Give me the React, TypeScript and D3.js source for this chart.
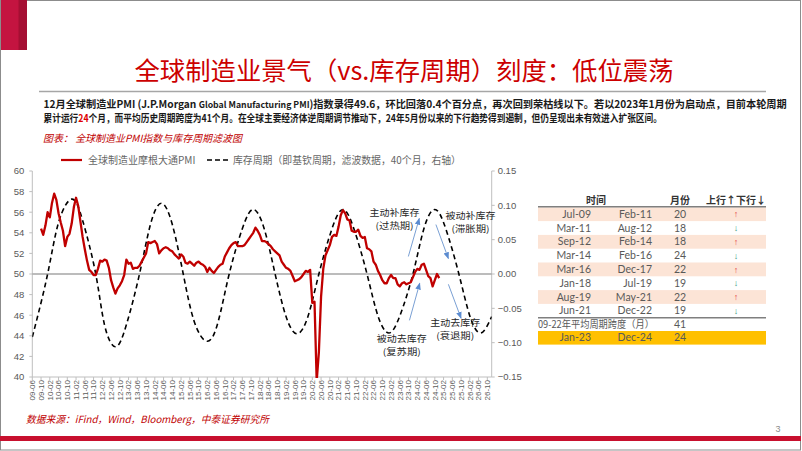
import React, { useEffect, useRef } from "react";
import * as d3 from "d3";

const CN = "'Noto Sans CJK SC', 'Noto Sans', sans-serif";
const NUM = "'Liberation Sans', Arial, sans-serif";
const RED = "#c00000";
const AXIS_TEXT = "#595959";

// monthly category axis
const axisFirstMonth = "2009-06";
const axisLastMonth = "2026-12";
const leftTicks = [40, 42, 44, 46, 48, 50, 52, 54, 56, 58, 60];
const rightTicks = [-0.15, -0.1, -0.05, 0, 0.05, 0.1, 0.15];

// J.P.Morgan global manufacturing PMI, one value per month from 2009-10
const pmiFirstMonth = "2009-10";
const pmiValues = [
  // 2009 Oct-Dec
  54.4, 53.8, 54.7,
  // 2010
  56.0, 55.5, 56.9, 57.8, 57.2, 55.9, 55.0, 54.2, 52.7, 53.6, 53.9, 54.9,
  // 2011
  56.5, 57.4, 56.6, 55.1, 53.6, 52.4, 51.3, 50.4, 50.2, 49.9, 49.9, 50.5,
  // 2012
  51.3, 51.2, 51.4, 51.3, 50.6, 49.4, 48.7, 48.1, 48.6, 48.9, 49.3, 49.9,
  // 2013
  51.4, 51.0, 51.1, 50.5, 50.6, 50.6, 50.8, 51.2, 51.6, 52.0, 53.1, 53.0,
  // 2014
  53.1, 53.2, 52.9, 52.0, 52.3, 52.5, 52.6, 52.5, 52.3, 52.2, 51.9, 51.7,
  // 2015
  51.5, 51.9, 51.7, 51.1, 51.0, 51.2, 51.0, 50.8, 51.1, 51.2, 51.0, 50.9,
  // 2016
  50.7, 50.2, 50.6, 50.3, 50.1, 50.4, 50.7, 50.9, 51.0, 51.7, 52.1, 52.5,
  // 2017
  52.8, 53.0, 53.1, 52.7, 52.7, 52.7, 52.8, 53.1, 53.4, 53.7, 54.0, 54.5,
  // 2018
  54.2, 53.8, 53.2, 53.2, 53.1, 52.9, 52.7, 52.4, 52.2, 52.0, 51.8, 51.2,
  // 2019
  50.9, 50.6, 50.5, 50.3, 49.8, 49.3, 49.4, 49.5, 49.7, 50.0, 50.3, 50.2,
  // 2020
  50.4, 47.2, 47.3, 39.6, 42.4, 47.8, 50.5, 51.8, 52.3, 52.8, 53.6, 53.8,
  // 2021
  53.7, 54.6, 55.7, 56.2, 55.9, 55.3, 55.2, 54.2, 54.1, 54.1, 54.3, 53.7,
  // 2022
  53.5, 53.6, 52.5, 52.4, 52.2, 51.2, 50.9, 50.3, 49.9, 49.4, 49.1, 49.1,
  // 2023
  49.6, 49.9, 49.6, 49.6, 49.0, 48.8, 49.1, 49.2, 49.0, 49.1, 49.2, 49.7,
  // 2024
  50.2, 50.5, 50.4, 50.9, 51.0, 50.4, 49.8, 49.6, 48.8, 49.4, 50.0, 49.6,
];

// inventory (Kitchin) cycle, filtered, right axis - read at turns and crossings
const kitchinMonths = [
  "2009-06", "2010-01", "2010-06", "2010-12", "2011-05", "2011-11", "2012-03",
  "2012-08", "2013-01", "2013-07", "2013-12", "2014-05", "2014-10", "2015-03",
  "2015-08", "2016-02", "2016-07", "2016-12", "2017-06", "2017-11", "2018-04",
  "2018-09", "2019-02", "2019-07", "2019-12", "2020-05", "2020-11", "2021-04",
  "2021-09", "2022-03", "2022-08", "2023-01", "2023-06", "2023-12", "2024-05",
  "2024-10", "2025-03", "2025-09", "2026-02", "2026-07", "2026-12",
];
const kitchinValues = [
  -0.092, 0.0, 0.075, 0.109, 0.078, 0.0, -0.074,
  -0.106, -0.074, 0.0, 0.072, 0.103, 0.072, 0.0,
  -0.069, -0.098, -0.069, 0.0, 0.066, 0.094, 0.066,
  0.0, -0.062, -0.087, -0.062, 0.0, 0.066, 0.094,
  0.066, 0.0, -0.061, -0.086, -0.061, 0.0, 0.066,
  0.094, 0.066, 0.0, -0.061, -0.086, -0.062,
];

// cycle table
const phaseStart = ["Jul-09", "Mar-11", "Sep-12", "Mar-14", "Mar-16", "Jan-18", "Aug-19", "Jun-21"];
const phaseEnd = ["Feb-11", "Aug-12", "Feb-14", "Feb-16", "Dec-17", "Jul-19", "May-21", "Dec-22"];
const phaseLength = [20, 18, 18, 24, 22, 19, 22, 19];
const phaseUp = [true, false, true, false, true, false, true, false];
const avgLabel = "09-22年平均周期跨度（月）";
const avgLength = 41;
const currentPhase = ["Jan-23", "Dec-24", "24"];

// phase annotations: [label, sub label, month index, left-axis value]
const phaseNotes: [string, string, number, number][] = [
  ["主动补库存", "(过热期)", 165.6, 55.95],
  ["被动补库存", "(滞胀期)", 200.3, 55.65],
  ["主动去库存", "(衰退期)", 193.3, 45.25],
  ["被动去库存", "(复苏期)", 168.9, 43.75],
];
// arrows: [from index, from value, to index, to value]
const phaseArrows: [number, number, number, number][] = [
  [171.9, 51.7, 176.9, 55.4],
  [184.5, 54.8, 190.2, 51.5],
  [190.2, 49.0, 196.0, 45.7],
  [172.4, 45.5, 177.1, 49.1],
];

export default function App() {
  const svgRef = useRef<SVGSVGElement | null>(null);

  useEffect(() => {
    if (!svgRef.current) return;
    const svg = d3.select(svgRef.current);
    svg.selectAll("*").remove();

    const parseMonth = d3.timeParse("%Y-%m");
    const fmtKey = d3.timeFormat("%Y-%m");
    const fmtTick = d3.timeFormat("%y-%m");

    const first = parseMonth(axisFirstMonth) as Date;
    const last = parseMonth(axisLastMonth) as Date;
    const months = d3.timeMonth.range(first, d3.timeMonth.offset(last, 1));
    const keys = months.map(fmtKey);

    const plot = { left: 32.3, right: 491.7, top: 171, bottom: 377 };

    const x = d3.scalePoint<string>().domain(keys).range([plot.left, plot.right]);
    const xi = d3.scaleLinear().domain([0, keys.length - 1]).range([plot.left, plot.right]);
    const yL = d3.scaleLinear().domain([40, 60]).range([plot.bottom, plot.top]);
    const yR = d3.scaleLinear().domain([-0.15, 0.15]).range([plot.bottom, plot.top]);

    // squeeze a text horizontally to a given width
    const fitWidth = (sel: any, px: number, py: number, width: number) => {
      const w = (sel.node() as SVGTextElement).getComputedTextLength();
      sel.attr("transform", `translate(${px},${py}) scale(${w > 0 ? width / w : 1},1)`);
    };

    // slide frame
    svg.append("rect")
      .attr("x", 0.5).attr("y", 0.5).attr("width", 800).attr("height", 449.5)
      .attr("fill", "#fff").attr("stroke", "#8c8c8c");
    svg.append("rect").attr("x", 1).attr("y", 0).attr("width", 26).attr("height", 50).attr("fill", "#c41440");
    svg.append("rect").attr("x", 18.5).attr("y", 0).attr("width", 8.5).attr("height", 50).attr("fill", "#a50f33");
    svg.append("rect").attr("x", 0).attr("y", 436).attr("width", 801).attr("height", 5).attr("fill", "#c8102e");
    svg.append("text")
      .attr("x", 778).attr("y", 432).attr("text-anchor", "middle")
      .attr("font-family", NUM).attr("font-size", 9).attr("fill", "#8c8c8c")
      .text("3");

    // title
    svg.append("text")
      .attr("x", 404).attr("y", 80).attr("text-anchor", "middle")
      .attr("font-family", CN).attr("font-size", 25).attr("fill", "#cc0000")
      .attr("textLength", 539).attr("lengthAdjust", "spacingAndGlyphs")
      .text("全球制造业景气（vs.库存周期）刻度：低位震荡");
    svg.append("line")
      .attr("x1", 39).attr("x2", 766).attr("y1", 91.5).attr("y2", 91.5)
      .attr("stroke", "#a6a6a6").attr("stroke-width", 1.5);

    // summary paragraph
    const p1 = svg.append("text")
      .attr("font-family", CN).attr("font-size", 10.5).attr("font-weight", "bold").attr("fill", "#1a1a1a");
    p1.append("tspan").text("12月全球制造业PMI (J.P.Morgan ");
    p1.append("tspan").attr("font-size", 9).attr("font-weight", 600).text("Global Manufacturing PMI");
    p1.append("tspan").text(")指数录得49.6，环比回落0.4个百分点，再次回到荣枯线以下。若以2023年1月份为启动点，目前本轮周期");
    fitWidth(p1, 43.5, 108, 744);

    const p2 = svg.append("text")
      .attr("font-family", CN).attr("font-size", 10.5).attr("font-weight", "bold").attr("fill", "#1a1a1a");
    p2.append("tspan").text("累计运行");
    p2.append("tspan").attr("fill", "#e00000").text("24");
    p2.append("tspan").text("个月，而平均历史周期跨度为41个月。在全球主要经济体逆周期调节推动下，24年5月份以来的下行趋势得到遏制，但仍呈现出未有效进入扩张区间。");
    fitWidth(p2, 43.5, 121.5, 620);

    svg.append("text")
      .attr("x", 43).attr("y", 142)
      .attr("font-family", CN).attr("font-size", 10).attr("font-style", "italic").attr("fill", RED)
      .attr("textLength", 199).attr("lengthAdjust", "spacingAndGlyphs")
      .text("图表：  全球制造业PMI指数与库存周期滤波图");

    // legend
    const legend = svg.append("g").attr("font-family", CN).attr("font-size", 10).attr("fill", "#666");
    legend.append("line").attr("x1", 61).attr("x2", 82).attr("y1", 160).attr("y2", 160)
      .attr("stroke", RED).attr("stroke-width", 2.2);
    legend.append("text").attr("x", 88).attr("y", 163.5).text("全球制造业摩根大通PMI");
    legend.append("line").attr("x1", 207).attr("x2", 228).attr("y1", 160).attr("y2", 160)
      .attr("stroke", "#000").attr("stroke-width", 1.5).attr("stroke-dasharray", "5,3");
    legend.append("text").attr("x", 233).attr("y", 163.5)
      .attr("textLength", 228).attr("lengthAdjust", "spacingAndGlyphs")
      .text("库存周期（即基钦周期，滤波数据，40个月，右轴）");

    // axes
    const axisColor = "#bfbfbf";
    const g = svg.append("g");
    g.append("line").attr("x1", plot.left).attr("x2", plot.left).attr("y1", plot.top).attr("y2", plot.bottom)
      .attr("stroke", axisColor);
    g.append("line").attr("x1", plot.right).attr("x2", plot.right).attr("y1", plot.top).attr("y2", plot.bottom)
      .attr("stroke", axisColor);
    g.append("line").attr("x1", plot.left).attr("x2", plot.right).attr("y1", plot.bottom).attr("y2", plot.bottom)
      .attr("stroke", axisColor);

    leftTicks.forEach((t) => {
      g.append("line").attr("x1", plot.left - 3).attr("x2", plot.left).attr("y1", yL(t)).attr("y2", yL(t))
        .attr("stroke", axisColor);
      g.append("text")
        .attr("x", plot.left - 8).attr("y", yL(t)).attr("dy", "0.35em").attr("text-anchor", "end")
        .attr("font-family", NUM).attr("font-size", 9.5).attr("fill", AXIS_TEXT)
        .text(t);
    });
    rightTicks.forEach((t) => {
      g.append("line").attr("x1", plot.right).attr("x2", plot.right + 3).attr("y1", yR(t)).attr("y2", yR(t))
        .attr("stroke", axisColor);
      g.append("text")
        .attr("x", plot.right + 6).attr("y", yR(t)).attr("dy", "0.35em").attr("text-anchor", "start")
        .attr("font-family", NUM).attr("font-size", 9.5).attr("fill", AXIS_TEXT)
        .text(d3.format(".2f")(t));
    });

    months.forEach((m, i) => {
      if (i % 4 !== 0) return;
      const px = x(keys[i]) as number;
      g.append("line").attr("x1", px).attr("x2", px).attr("y1", plot.bottom).attr("y2", plot.bottom + 3)
        .attr("stroke", axisColor);
      g.append("text")
        .attr("transform", `translate(${px},${plot.bottom + 3}) rotate(-90)`)
        .attr("dy", "0.35em").attr("text-anchor", "end")
        .attr("font-family", NUM).attr("font-size", 8).attr("fill", AXIS_TEXT)
        .text(fmtTick(m));
    });

    // zero line (PMI 50 / cycle 0)
    g.append("line").attr("x1", plot.left).attr("x2", plot.right).attr("y1", yL(50)).attr("y2", yL(50))
      .attr("stroke", "#a6a6a6").attr("stroke-width", 1.4);

    svg.append("clipPath").attr("id", "plot-clip")
      .append("rect").attr("x", plot.left).attr("y", plot.top - 5)
      .attr("width", plot.right - plot.left).attr("height", plot.bottom - plot.top + 6);

    // inventory cycle (dashed)
    const kitchin = kitchinMonths.map((k, i) => [x(k) as number, yR(kitchinValues[i])] as [number, number]);
    g.append("path")
      .datum(kitchin)
      .attr("clip-path", "url(#plot-clip)")
      .attr("fill", "none").attr("stroke", "#000").attr("stroke-width", 1.6)
      .attr("stroke-dasharray", "5,3.5")
      .attr("d", d3.line().curve(d3.curveNatural));

    // PMI line
    const pmiStart = parseMonth(pmiFirstMonth) as Date;
    const pmi = pmiValues.map((v, i) => [
      x(fmtKey(d3.timeMonth.offset(pmiStart, i))) as number,
      yL(v),
    ] as [number, number]);
    g.append("path")
      .datum(pmi)
      .attr("clip-path", "url(#plot-clip)")
      .attr("fill", "none").attr("stroke", RED).attr("stroke-width", 2.3)
      .attr("stroke-linejoin", "round")
      .attr("d", d3.line());

    // phase annotations
    const defs = svg.append("defs");
    defs.append("marker")
      .attr("id", "arrow-head").attr("viewBox", "0 0 10 10")
      .attr("refX", 9).attr("refY", 5).attr("markerWidth", 7).attr("markerHeight", 7)
      .attr("orient", "auto")
      .append("path").attr("d", "M0,1 L10,5 L0,9 z").attr("fill", "#5b8bd0");

    phaseArrows.forEach(([i0, v0, i1, v1]) => {
      g.append("line")
        .attr("x1", xi(i0)).attr("y1", yL(v0)).attr("x2", xi(i1)).attr("y2", yL(v1))
        .attr("stroke", "#7aa0d4").attr("stroke-width", 1)
        .attr("marker-end", "url(#arrow-head)");
    });

    phaseNotes.forEach(([label, sub, idx, v]) => {
      const note = g.append("text")
        .attr("y", yL(v)).attr("text-anchor", "middle")
        .attr("font-family", CN).attr("font-size", 9).attr("fill", "#262626");
      note.append("tspan").attr("x", xi(idx)).attr("dy", "0.35em")
        .attr("textLength", 50).attr("lengthAdjust", "spacingAndGlyphs").text(label);
      note.append("tspan").attr("x", xi(idx)).attr("dy", 13.2)
        .attr("textLength", 38).attr("lengthAdjust", "spacingAndGlyphs").text(sub);
    });

    // source
    svg.append("text")
      .attr("x", 26).attr("y", 423)
      .attr("font-family", CN).attr("font-size", 10).attr("font-style", "italic").attr("fill", RED)
      .attr("textLength", 243).attr("lengthAdjust", "spacingAndGlyphs")
      .text("数据来源：iFind，Wind，Bloomberg，中泰证券研究所");

    // cycle table
    const tbl = { left: 538, right: 766, start: 591, end: 652, len: 680, dir: 736 };
    const rows = d3.scaleBand<number>()
      .domain(d3.range(phaseStart.length))
      .range([207.3, 317.7]);
    const t = svg.append("g").attr("font-family", "Lato, 'Noto Sans', sans-serif").attr("font-size", 10.5)
      .attr("fill", AXIS_TEXT);

    const headers: [string, number][] = [["时间", 596], ["月份", tbl.len], ["上行↑下行↓", tbl.dir]];
    headers.forEach(([h, hx]) => {
      t.append("text").attr("x", hx).attr("y", 200.5).attr("dy", "0.35em").attr("text-anchor", "middle")
        .attr("font-family", CN).attr("font-weight", "bold").attr("font-size", 10).attr("fill", "#333").text(h);
    });

    phaseStart.forEach((s, i) => {
      const y0 = rows(i) as number;
      const yc = y0 + rows.bandwidth() / 2;
      if (i % 2 === 0) {
        t.append("rect").attr("x", tbl.left).attr("y", y0).attr("width", tbl.right - tbl.left)
          .attr("height", rows.bandwidth()).attr("fill", "#fce4d6");
      }
      t.append("text").attr("x", tbl.start).attr("y", yc).attr("dy", "0.35em").attr("text-anchor", "end").text(s);
      t.append("text").attr("x", tbl.end).attr("y", yc).attr("dy", "0.35em").attr("text-anchor", "end").text(phaseEnd[i]);
      t.append("text").attr("x", tbl.len).attr("y", yc).attr("dy", "0.35em").attr("text-anchor", "middle").text(phaseLength[i]);
      t.append("text").attr("x", tbl.dir).attr("y", yc).attr("dy", "0.35em").attr("text-anchor", "middle")
        .attr("font-family", NUM).attr("font-size", 9)
        .attr("fill", phaseUp[i] ? "#e5484d" : "#3a9d7d")
        .text(phaseUp[i] ? "↑" : "↓");
    });

    t.append("line").attr("x1", tbl.left).attr("x2", tbl.right).attr("y1", 206.7).attr("y2", 206.7)
      .attr("stroke", "#7f7f7f").attr("stroke-width", 1.5);
    t.append("line").attr("x1", tbl.left).attr("x2", tbl.right).attr("y1", 317.7).attr("y2", 317.7)
      .attr("stroke", "#7f7f7f").attr("stroke-width", 1.5);

    const avgY = 324.3;
    t.append("text").attr("x", tbl.left).attr("y", avgY).attr("dy", "0.35em")
      .attr("font-family", CN).attr("font-size", 10)
      .attr("textLength", 116).attr("lengthAdjust", "spacingAndGlyphs")
      .text(avgLabel);
    t.append("text").attr("x", tbl.len).attr("y", avgY).attr("dy", "0.35em").attr("text-anchor", "middle").text(avgLength);

    t.append("rect").attr("x", tbl.left).attr("y", 331).attr("width", tbl.right - tbl.left).attr("height", 13.6)
      .attr("fill", "#ffc000");
    const curY = 337.8;
    t.append("text").attr("x", tbl.start).attr("y", curY).attr("dy", "0.35em").attr("text-anchor", "end").text(currentPhase[0]);
    t.append("text").attr("x", tbl.end).attr("y", curY).attr("dy", "0.35em").attr("text-anchor", "end").text(currentPhase[1]);
    t.append("text").attr("x", tbl.len).attr("y", curY).attr("dy", "0.35em").attr("text-anchor", "middle").text(currentPhase[2]);
  }, []);

  return (
    <div style={{ position: "absolute", left: 0, top: 0 }}>
      <svg ref={svgRef} width={802} height={451} style={{ display: "block" }} />
    </div>
  );
}
